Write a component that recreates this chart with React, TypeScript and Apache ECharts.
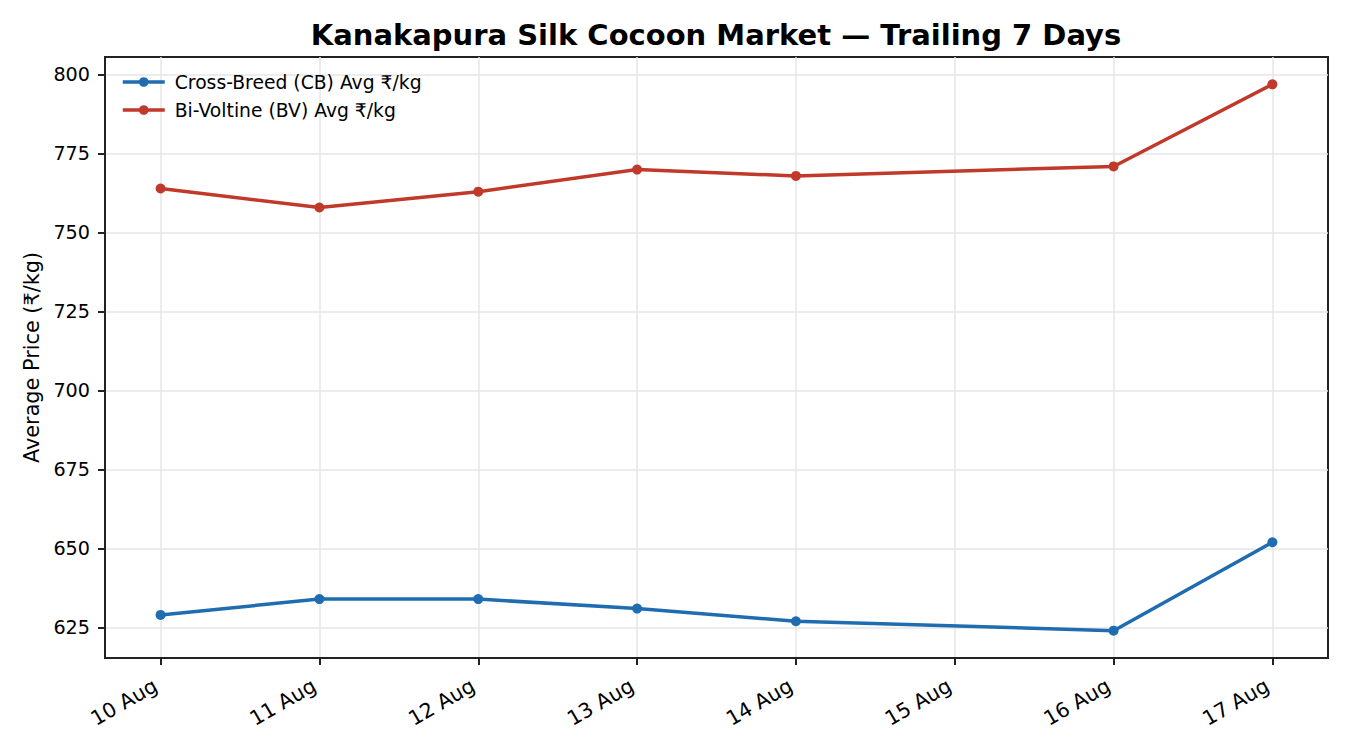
import React, { useEffect, useRef } from "react";
import * as echarts from "echarts";

const dates = ["10 Aug", "11 Aug", "12 Aug", "13 Aug", "14 Aug", "15 Aug", "16 Aug", "17 Aug"];
const cbPrices: (number | null)[] = [629, 634, 634, 631, 627, null, 624, 652];
const bvPrices: (number | null)[] = [764, 758, 763, 770, 768, null, 771, 797];
const yTicks = [625, 650, 675, 700, 725, 750, 775, 800];
const seriesNames = ["Cross-Breed (CB) Avg ₹/kg", "Bi-Voltine (BV) Avg ₹/kg"];
const colors = ["#1f6db0", "#c0392b"];

const FONT = "DejaVu Sans";

function toPairs(vals: (number | null)[]) {
  const out: [number, number][] = [];
  vals.forEach((v, i) => {
    if (v !== null) out.push([i, v]);
  });
  return out;
}

export default function App() {
  const ref = useRef<HTMLDivElement>(null);
  useEffect(() => {
    document.body.style.margin = "0";
    if (!ref.current) return;
    const chart = echarts.init(ref.current, undefined, { renderer: "svg" });
    const all = [...cbPrices, ...bvPrices].filter((v) => v !== null) as number[];
    const lo = Math.min(...all);
    const hi = Math.max(...all);
    const pad = (hi - lo) * 0.05;
    const n = dates.length - 1;
    const xIdx = dates.map((_, i) => i);
    chart.setOption({
      animation: false,
      textStyle: { fontFamily: FONT },
      title: {
        text: "Kanakapura Silk Cocoon Market — Trailing 7 Days",
        left: 716,
        top: 20,
        padding: 0,
        textAlign: "center",
        textStyle: { fontFamily: FONT, fontSize: 29, fontWeight: "bold", color: "#000" },
      },
      legend: {
        orient: "vertical",
        left: 121,
        top: 71,
        padding: 0,
        itemWidth: 42,
        itemHeight: 12,
        itemGap: 6,
        lineStyle: { width: 3.5 },
        textStyle: { fontFamily: FONT, fontSize: 18.75, color: "#000", lineHeight: 22, padding: [0, 0, 0, 5] },
        data: seriesNames,
      },
      grid: {
        left: 105,
        right: 22,
        top: 57,
        bottom: 92,
        show: true,
        borderColor: "#222",
        borderWidth: 2,
        containLabel: false,
      },
      xAxis: {
        type: "value",
        min: -n * 0.05,
        max: n * 1.05,
        axisLine: { show: true, onZero: false, lineStyle: { color: "#222", width: 2 } },
        axisTick: { show: true, customValues: xIdx, length: 7, lineStyle: { color: "#222", width: 2 } },
        axisLabel: {
          customValues: xIdx,
          rotate: 30,
          margin: 23,
          padding: [0, 6, 0, 0],
          fontFamily: FONT,
          fontSize: 20.5,
          color: "#000",
          formatter: (v: number) => dates[Math.round(v)],
        },
        splitLine: { show: true, lineStyle: { color: "#e6e6e6", width: 1.5 } },
      },
      yAxis: {
        type: "value",
        min: lo - pad,
        max: hi + pad,
        name: "Average Price (₹/kg)",
        nameLocation: "middle",
        nameGap: 62,
        nameTextStyle: { fontFamily: FONT, fontSize: 20.8, color: "#000" },
        axisLine: { show: true, onZero: false, lineStyle: { color: "#222", width: 2 } },
        axisTick: { show: true, customValues: yTicks, length: 7, lineStyle: { color: "#222", width: 2 } },
        axisLabel: {
          customValues: yTicks,
          margin: 15,
          fontFamily: FONT,
          fontSize: 19.2,
          color: "#000",
          formatter: (v: number) => String(Math.round(v)),
        },
        splitLine: { show: true, lineStyle: { color: "#e6e6e6", width: 1.5 } },
      },
      series: [cbPrices, bvPrices].map((vals, k) => ({
        name: seriesNames[k],
        type: "line",
        data: toPairs(vals),
        symbol: "circle",
        symbolSize: 10,
        showSymbol: true,
        lineStyle: { color: colors[k], width: 3.5 },
        itemStyle: { color: colors[k] },
        z: 3,
      })),
    });
    return () => chart.dispose();
  }, []);
  return <div ref={ref} style={{ width: 1350, height: 750 }} />;
}
